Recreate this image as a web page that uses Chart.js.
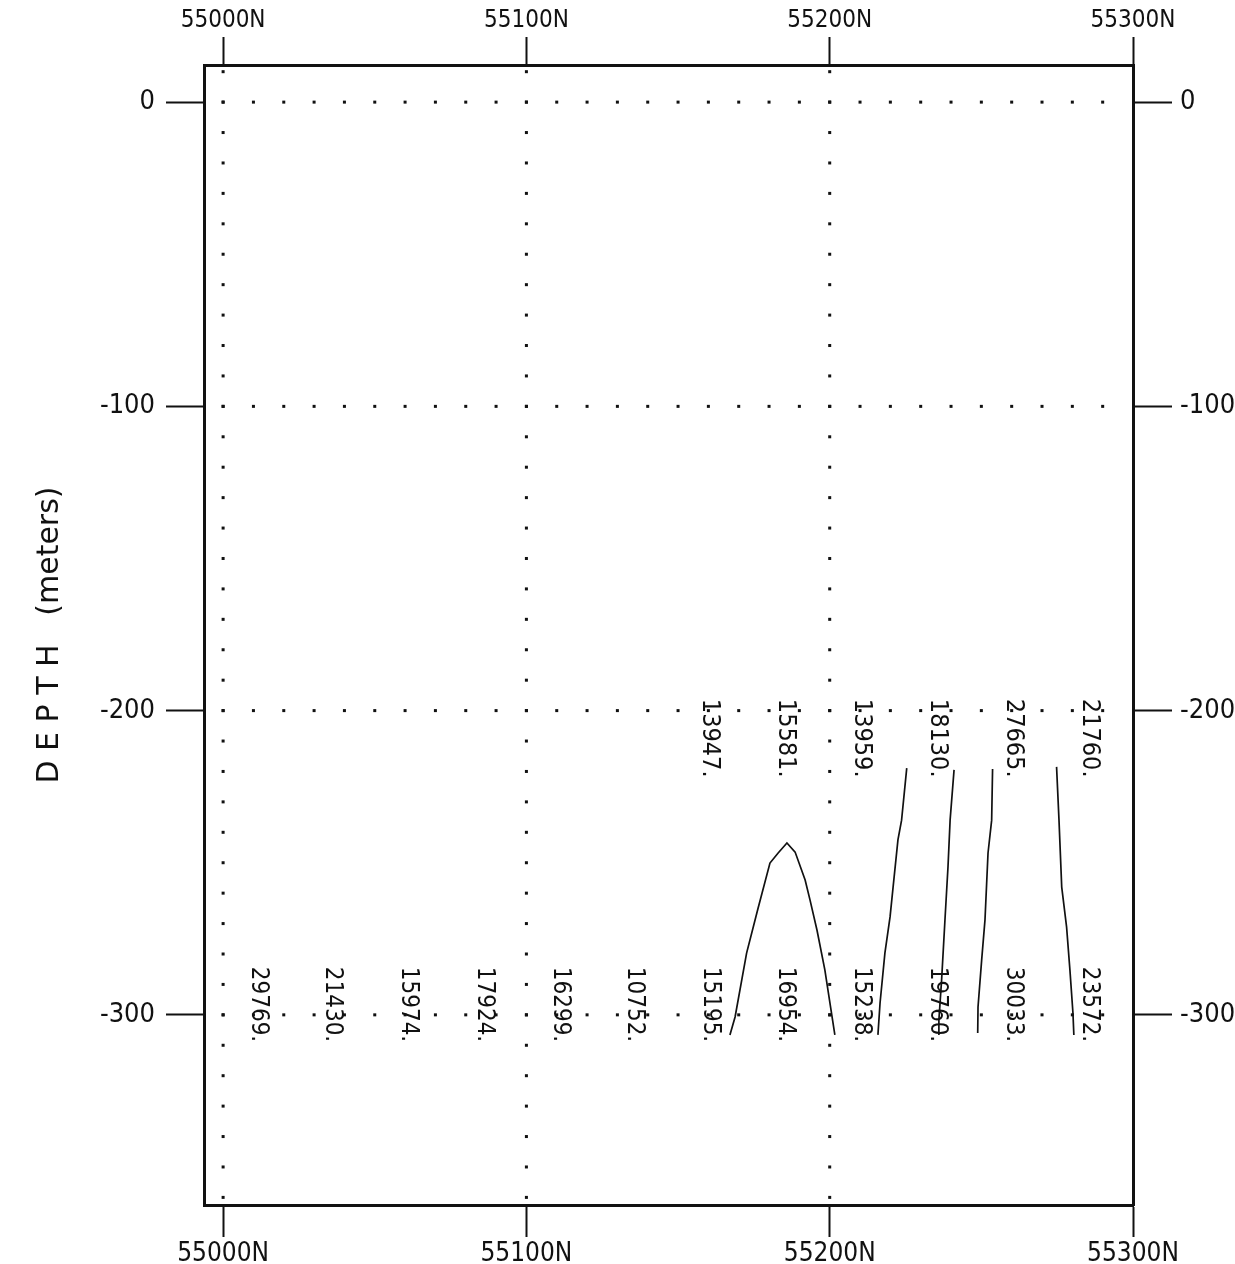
<!DOCTYPE html>
<html>
<head>
<meta charset="utf-8">
<script src="https://cdn.jsdelivr.net/npm/chart.js@4.4.1/dist/chart.umd.min.js"></script>
<style>
  html, body { margin: 0; padding: 0; background: #fff; }
  #wrap { width: 1235px; height: 1264px; }
</style>
</head>
<body>
<div id="wrap"><canvas id="section" width="1235" height="1264"></canvas></div>
<script>
// ---- axis ticks ----
const xTicks = [55000, 55100, 55200, 55300];
const yTicks = [0, -100, -200, -300];
const xGridLines = [55000, 55100, 55200];

// ---- station positions and printed values ----
const stations    = [55011.5, 55036, 55061, 55086, 55111, 55135.5, 55160.5, 55185.5, 55210.5, 55235.5, 55260.5, 55285.5];
const lowerValues = ['29769.', '21430.', '15974.', '17924.', '16299.', '10752.', '15195.', '16954.', '15238.', '19760.', '30033.', '23572.'];
const lowerDepth  = [-309, -309, -309, -309, -309, -309, -309, -309, -309, -309, -309, -309];
const upperStations = [55160.5, 55185.5, 55210.5, 55235.5, 55260.5, 55285.5];
const upperValues   = ['13947.', '15581.', '13959.', '18130.', '27665.', '21760.'];
const upperDepth    = [-222, -222, -222, -222, -222, -222];

// ---- contour lines ----
const archX = [55167.1, 55168.8, 55172.6, 55176.4, 55180.3, 55183.0, 55185.9, 55188.6, 55191.9, 55193.5, 55195.8, 55198.4, 55201.7];
const archY = [-306.6, -300.7, -279.7, -264.9, -250.1, -246.8, -243.5, -246.5, -255.7, -262.2, -272.1, -285.2, -306.6];
const line2X = [55225.4, 55223.7, 55222.5, 55220.9, 55219.9, 55218.2, 55216.6, 55215.9];
const line2Y = [-218.9, -236.0, -242.5, -258.0, -267.8, -279.7, -296.1, -306.6];
const line3X = [55241.0, 55239.7, 55239.0, 55238.0, 55236.9, 55236.0, 55236.0];
const line3Y = [-219.5, -236.0, -251.4, -268.8, -288.5, -301.7, -306.6];
const line4X = [55253.7, 55253.4, 55252.2, 55251.2, 55250.1, 55248.9, 55248.8];
const line4Y = [-219.2, -236.0, -246.8, -268.8, -282.0, -297.4, -306.0];
const line5X = [55274.8, 55275.6, 55276.5, 55278.1, 55279.2, 55280.2, 55280.5];
const line5Y = [-218.5, -236.0, -258.0, -271.1, -285.2, -299.4, -306.6];

const NARROW = "'Liberation Sans Narrow', 'DejaVu Sans Condensed', 'Liberation Sans', sans-serif";

const pts = (xs, ys) => xs.map((x, i) => ({ x, y: ys[i] }));
const contour = (xs, ys) => ({
    data: pts(xs, ys), borderColor: '#111', borderWidth: 1.7,
    pointRadius: 0, tension: 0, fill: false
});

// dotted grid, every 10 units along the main lines
const dotGrid = {
    id: 'dotGrid',
    beforeDatasetsDraw(chart) {
        const { ctx, scales: { x, y } } = chart;
        ctx.save();
        ctx.fillStyle = '#111';
        xGridLines.forEach(gx => {
            for (let d = 10; d >= -360; d -= 10) {
                ctx.fillRect(x.getPixelForValue(gx) - 1.5, y.getPixelForValue(d) - 1.5, 3, 3);
            }
        });
        yTicks.forEach(gy => {
            for (let e = 55000; e <= 55290; e += 10) {
                ctx.fillRect(x.getPixelForValue(e) - 1.5, y.getPixelForValue(gy) - 1.5, 3, 3);
            }
        });
        ctx.restore();
    }
};

// rotated station values (text reads downward, ends at the point)
const valueLabels = {
    id: 'valueLabels',
    afterDatasetsDraw(chart) {
        const { ctx, scales: { x, y } } = chart;
        const draw = (xs, ds, vals) => xs.forEach((sx, i) => {
            ctx.save();
            ctx.translate(x.getPixelForValue(sx), y.getPixelForValue(ds[i]));
            ctx.rotate(Math.PI / 2);
            ctx.fillText(vals[i], 0, 0);
            ctx.restore();
        });
        ctx.save();
        ctx.fillStyle = '#111';
        ctx.textAlign = 'right';
        ctx.textBaseline = 'middle';
        ctx.font = `24px ${NARROW}`;
        draw(stations, lowerDepth, lowerValues);
        ctx.font = `25px ${NARROW}`;
        draw(upperStations, upperDepth, upperValues);
        ctx.restore();
    }
};

const fixTicks = list => axis => { axis.ticks = list.map(v => ({ value: v })); };
const axisGrid = len => ({
    drawOnChartArea: false, drawTicks: true, tickLength: len,
    tickWidth: 2, tickColor: '#111', color: '#111'
});
const axisBorder = { display: true, color: '#111', width: 3 };

new Chart(document.getElementById('section'), {
    type: 'scatter',
    data: {
        datasets: [
            contour(archX, archY),
            contour(line2X, line2Y),
            contour(line3X, line3Y),
            contour(line4X, line4Y),
            contour(line5X, line5Y)
        ]
    },
    options: {
        responsive: false, animation: false, devicePixelRatio: 1,
        showLine: true,
        layout: { padding: 0 },
        plugins: { legend: { display: false }, tooltip: { enabled: false } },
        scales: {
            x: {
                type: 'linear', position: 'bottom', min: 54993.7, max: 55300,
                afterBuildTicks: fixTicks(xTicks),
                afterFit: s => { s.height = 59; },
                grid: axisGrid(32), border: axisBorder,
                ticks: { autoSkip: false, maxRotation: 0, padding: 2, color: '#111',
                    font: { family: NARROW, size: 26 }, callback: v => v + 'N' }
            },
            x2: {
                type: 'linear', position: 'top', min: 54993.7, max: 55300,
                afterBuildTicks: fixTicks(xTicks),
                afterFit: s => { s.height = 65; },
                grid: axisGrid(28), border: axisBorder,
                ticks: { autoSkip: false, maxRotation: 0, padding: 2, color: '#111',
                    font: { family: NARROW, size: 24 }, callback: v => v + 'N' }
            },
            y: {
                type: 'linear', position: 'left', min: -362.5, max: 12.2,
                afterBuildTicks: fixTicks(yTicks),
                afterFit: s => { s.width = 204; },
                grid: axisGrid(38), border: axisBorder,
                ticks: { autoSkip: false, padding: 11, color: '#111',
                    font: { family: NARROW, size: 27 }, callback: v => String(v) },
                title: { display: true, text: 'D E P T H   (meters)', color: '#111',
                    font: { family: "'DejaVu Sans', sans-serif", size: 30, weight: 'normal' },
                    padding: { top: 32, bottom: 0 } }
            },
            y2: {
                type: 'linear', position: 'right', min: -362.5, max: 12.2,
                afterBuildTicks: fixTicks(yTicks),
                afterFit: s => { s.width = 102; },
                grid: axisGrid(39), border: axisBorder,
                ticks: { autoSkip: false, padding: 8, color: '#111',
                    font: { family: NARROW, size: 27 }, callback: v => String(v) }
            }
        }
    },
    plugins: [dotGrid, valueLabels]
});
</script>
</body>
</html>
